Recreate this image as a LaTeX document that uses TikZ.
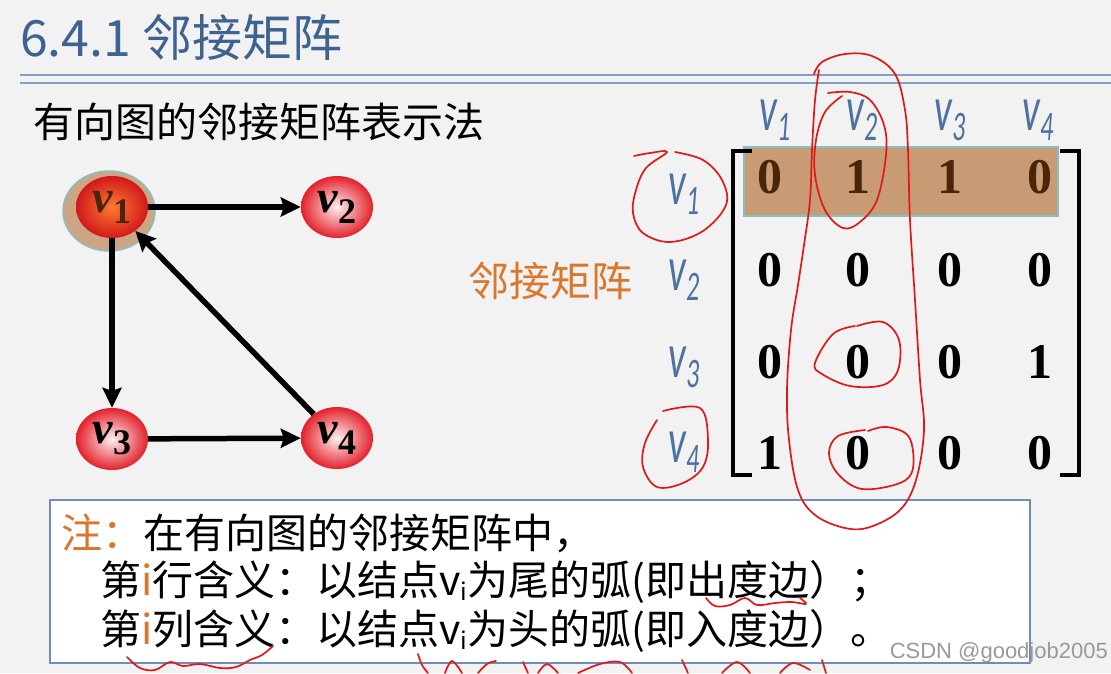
\documentclass[tikz,border=0pt]{standalone}
\usepackage{fontspec}
\setmainfont{Liberation Serif}
\newfontfamily\cjk{Noto Sans CJK SC}
\newfontfamily\calib{Carlito}
\newfontfamily\wmfont{Liberation Sans}
\usetikzlibrary{shapes.geometric,arrows.meta}

\definecolor{slidebg}{HTML}{F2F2F2}
\definecolor{titleblue}{HTML}{3F6390}
\definecolor{ruleblue}{HTML}{819FC8}
\definecolor{hdrblue}{HTML}{4D72A2}
\definecolor{labelorange}{HTML}{D9782C}
\definecolor{hilitetan}{HTML}{C99B74}
\definecolor{hiliteedge}{HTML}{86C0C6}
\definecolor{rowbrown}{HTML}{4A2608}
\definecolor{boxblue}{HTML}{6E8DBE}
\definecolor{ballred}{HTML}{E3212B}
\definecolor{inkred}{HTML}{E01818}

% vertex label in the graph, header label over the matrix
\newcommand{\gv}[1]{v\raisebox{-11pt}{\fontsize{36}{36}\selectfont\upshape #1}}
\newcommand{\hv}[1]{\scalebox{0.62}[1]{v\raisebox{-10pt}{\fontsize{42}{42}\selectfont #1}}}
\newcommand{\sub}[1]{\raisebox{-5pt}{\fontsize{24}{24}\selectfont #1}}

\begin{document}
\begin{tikzpicture}[x=1pt,y=-1pt,
    ball/.style={ellipse,minimum width=72pt,minimum height=62pt,inner sep=0pt,
      inner color=red!6!white,outer color=ballred,
      font=\fontsize{46}{46}\selectfont\bfseries\itshape},
    halo/.style={ellipse,minimum width=92pt,minimum height=80pt,inner sep=0pt,
      fill=hilitetan!90!white,draw=hiliteedge,line width=1.5pt},
    arc/.style={-{Stealth[length=20pt,width=19pt,inset=3pt]},line width=5.5pt},
    hdr/.style={inner sep=0pt,text=hdrblue,font=\calib\itshape\fontsize{64}{64}\selectfont},
    entry/.style={inner sep=0pt,font=\fontsize{50}{50}\selectfont\bfseries},
    bracket/.style={line width=3.5pt},
    cjktxt/.style={inner sep=0pt,anchor=west,font=\cjk\fontsize{41}{41}\selectfont},
    scrib/.style={draw=inkred,line width=1.7pt,line cap=round,line join=round}]
  \useasboundingbox (0,0) rectangle (1111,673);
  \fill[slidebg] (0,0) rectangle (1111,673);

  % title and rule
  \node[cjktxt,text=titleblue,font=\cjk\fontsize{50}{50}\selectfont] (title) at (20,38) {6.4.1 邻接矩阵};
  \draw[ruleblue,line width=2.8pt] (20,75) -- (1111,75);
  \draw[ruleblue,line width=2pt] (20,83) -- (1111,83);
  \node[cjktxt] (subtitle) at (33,122) {有向图的邻接矩阵表示法};

  % the graph
  \node[halo] (v1h) at (109,211) {};
  \node[ball,inner color=orange!70!red!80!white,outer color=red!80!black!90!white,text=rowbrown] (v1) at (112,207) {\gv{1}};
  \node[ball] (v2) at (337,207) {\gv{2}};
  \node[ball] (v3) at (112,439) {\gv{3}};
  \node[ball] (v4) at (337,438) {\gv{4}};

  \path[arc]
    (v1) edge (v2)
    (v1) edge (v3)
    (v3) edge (v4)
    (v4) edge (v1);

  % the matrix
  \node[cjktxt,anchor=center,text=labelorange] (lab) at (550,281) {邻接矩阵};
  \draw[fill=hilitetan,draw=hiliteedge,line width=1.5pt] (744,147) rectangle (1058,216);

  \node[hdr] (c1) at (775,120) {\hv{1}};
  \node[hdr] (c2) at (862,120) {\hv{2}};
  \node[hdr] (c3) at (950,120) {\hv{3}};
  \node[hdr] (c4) at (1038,120) {\hv{4}};
  \node[hdr] (r1) at (684,194) {\hv{1}};
  \node[hdr] (r2) at (684,280) {\hv{2}};
  \node[hdr] (r3) at (684,367) {\hv{3}};
  \node[hdr] (r4) at (684,452) {\hv{4}};

  \foreach \x/\val [count=\j] in {770/0,858/1,950/1,1040/0}
    \node[entry,text=rowbrown] (m1\j) at (\x,177) {\val};
  \foreach \x/\val [count=\j] in {770/0,858/0,950/0,1040/0}
    \node[entry] (m2\j) at (\x,270) {\val};
  \foreach \x/\val [count=\j] in {770/0,858/0,950/0,1040/1}
    \node[entry] (m3\j) at (\x,362) {\val};
  \foreach \x/\val [count=\j] in {770/1,858/0,950/0,1040/0}
    \node[entry] (m4\j) at (\x,453) {\val};

  \draw[bracket] (752,151) -- (733,151) -- (733,475) -- (752,475);
  \draw[bracket] (1060,151) -- (1079,151) -- (1079,475) -- (1060,475);

  % note box
  \draw[fill=white,draw=boxblue,line width=2.5pt] (50,500) rectangle (1030,663);
  \node[cjktxt] (n1) at (61,533) {\textcolor{labelorange}{注：}在有向图的邻接矩阵中，};
  \node[cjktxt] (n2) at (100,582) {第\textcolor{labelorange}{i}行含义：以结点v\sub{i}为尾的弧(即出度边）；};
  \node[cjktxt] (n3) at (100,631) {第\textcolor{labelorange}{i}列含义：以结点v\sub{i}为头的弧(即入度边）。};

  \node[inner sep=0pt,anchor=east,text=black!40,font=\wmfont\fontsize{22}{22}\selectfont] (wm) at (1108,653) {CSDN @goodjob2005};

  % red pen marks
  \draw[scrib] plot[smooth,tension=0.6] coordinates {(814,74) (822,62) (845,54) (872,56) (895,74) (905,110) (908,150)
    (910,220) (915,300) (920,380) (924,430) (916,480) (900,510) (870,527) (845,528) (815,515) (798,490)
    (789,440) (787,390) (791,330) (798,285) (804,245) (810,200) (812,150) (815,100) (819,70)};
  \draw[scrib] plot[smooth,tension=0.6] coordinates {(828,93) (850,92) (870,100) (884,125) (886,155) (877,200)
    (860,222) (843,228) (825,210) (815,175) (816,140) (825,112) (842,96)};
  \draw[scrib] plot[smooth,tension=0.6] coordinates {(857,326) (883,322) (899,340) (898,370) (883,385) (850,386)
    (822,374) (815,363) (833,334) (855,326)};
  \draw[scrib] plot[smooth,tension=0.6] coordinates {(868,431) (887,427) (909,437) (913,468) (900,483) (862,489)
    (838,474) (829,453) (838,436) (865,430)};
  \draw[scrib] plot[smooth,tension=0.6] coordinates {(634,156) (650,153) (667,152) (646,168) (636,190) (633,213)
    (643,233) (670,242) (703,231) (726,205) (722,180) (703,160) (675,152)};
  \draw[scrib] plot[smooth,tension=0.6] coordinates {(663,411) (700,408) (708,440) (703,467) (683,483) (657,487)
    (643,467) (645,443) (657,420)};
  \draw[scrib] plot[smooth,tension=0.6] coordinates {(706,598) (715,606) (730,605) (745,598) (757,605) (775,603)
    (792,602) (806,604) (800,598)};
  \draw[scrib] plot[smooth,tension=0.6] coordinates {(127,657) (140,668) (155,670) (170,662) (183,666) (200,664)
    (220,668) (236,667) (250,660) (262,655) (273,646)};
  \draw[scrib] plot[smooth,tension=0.6] coordinates {(418,654) (422,665) (428,673)};
  \draw[scrib] plot[smooth,tension=0.6] coordinates {(445,673) (452,661) (462,673)};
  \draw[scrib] plot[smooth,tension=0.6] coordinates {(478,673) (487,664) (496,661)};
  \draw[scrib] plot[smooth,tension=0.6] coordinates {(523,662) (528,673)};
  \draw[scrib] plot[smooth,tension=0.6] coordinates {(538,673) (547,664) (558,673)};
  \draw[scrib] plot[smooth,tension=0.6] coordinates {(578,673) (600,664) (620,662) (632,673)};
  \draw[scrib] plot[smooth,tension=0.6] coordinates {(682,660) (688,673)};
  \draw[scrib] plot[smooth,tension=0.6] coordinates {(722,673) (737,662) (750,673)};
  \draw[scrib] plot[smooth,tension=0.6] coordinates {(780,673) (793,663) (810,670)};
  \draw[scrib] plot[smooth,tension=0.6] coordinates {(822,660) (826,673)};
\end{tikzpicture}
\end{document}
